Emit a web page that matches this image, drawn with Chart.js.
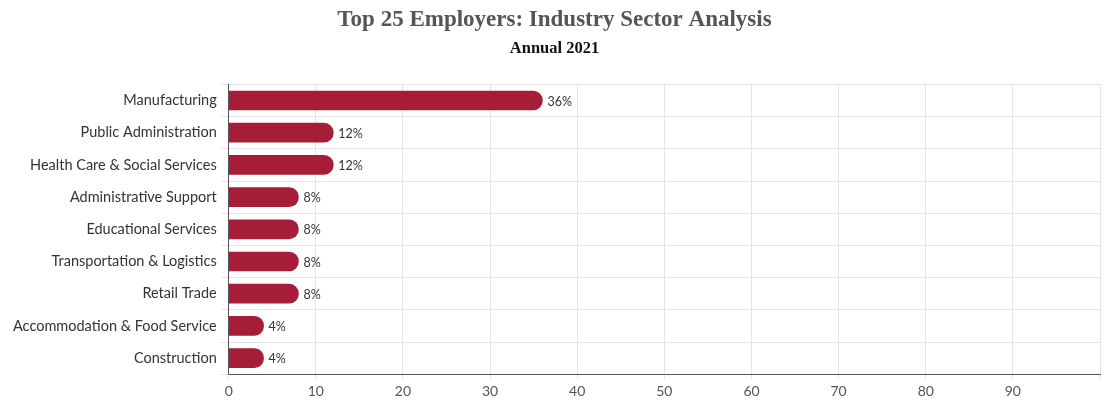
<!DOCTYPE html>
<html>
<head>
<meta charset="utf-8">
<script src="https://cdn.jsdelivr.net/npm/chart.js@4/dist/chart.umd.min.js"></script>
<style>
  html, body { margin: 0; padding: 0; background: #fff; }
  #wrap { width: 1104px; height: 404px; }
</style>
</head>
<body>
<div id="wrap"><canvas id="chart"></canvas></div>
<script>
// chart data
var sectors = ['Manufacturing', 'Public Administration', 'Health Care & Social Services',
  'Administrative Support', 'Educational Services', 'Transportation & Logistics',
  'Retail Trade', 'Accommodation & Food Service', 'Construction'];
var shares = [36, 12, 12, 8, 8, 8, 8, 4, 4];
var xTicks = [0, 10, 20, 30, 40, 50, 60, 70, 80, 90];

// draws the "36%" style labels past the end of each bar
var barLabels = {
  id: 'barLabels',
  afterDatasetsDraw: function (chart) {
    var ctx = chart.ctx;
    var meta = chart.getDatasetMeta(0);
    ctx.save();
    ctx.font = '12.5px Lato';
    ctx.fillStyle = '#333';
    ctx.textBaseline = 'middle';
    meta.data.forEach(function (bar, i) {
      ctx.fillText(shares[i] + '%', bar.x + 5, bar.y + 1);
    });
    ctx.restore();
  }
};

var ctx = document.getElementById('chart').getContext('2d');
var chart = new Chart(ctx, {
  type: 'bar',
  data: {
    labels: sectors,
    datasets: [{
      data: shares,
      backgroundColor: '#a51d36',
      borderRadius: 10,
      borderSkipped: 'start',
      barThickness: 19
    }]
  },
  options: {
    indexAxis: 'y',
    responsive: true,
    maintainAspectRatio: false,
    animation: false,
    layout: { padding: { left: 9, right: 4, top: 0, bottom: 0 } },
    plugins: {
      legend: { display: false },
      tooltip: { enabled: false },
      title: {
        display: true,
        text: 'Top 25 Employers: Industry Sector Analysis',
        color: '#555',
        font: { family: 'Liberation Serif', size: 23, weight: 'bold' },
        padding: { top: 6, bottom: 5 }
      },
      subtitle: {
        display: true,
        text: 'Annual 2021',
        color: '#111',
        font: { family: 'Liberation Serif', size: 16.5, weight: 'bold' },
        padding: { top: 0, bottom: 26 }
      }
    },
    scales: {
      x: {
        min: 0,
        max: 100,
        afterBuildTicks: function (axis) {
          axis.ticks = xTicks.concat([100]).map(function (v) { return { value: v }; });
        },
        ticks: {
          color: '#555',
          font: { family: 'Lato', size: 14 },
          padding: 4,
          callback: function (v) { return v === 100 ? '' : v; }
        },
        grid: { color: '#e4e4e4', tickLength: 5 },
        border: { color: '#555' }
      },
      y: {
        ticks: {
          color: '#333',
          font: { family: 'Lato', size: 14.5 },
          padding: 4
        },
        grid: { color: '#e4e4e4', offset: true, tickLength: 8 },
        border: { color: '#555' }
      }
    }
  },
  plugins: [barLabels]
});
</script>
</body>
</html>
